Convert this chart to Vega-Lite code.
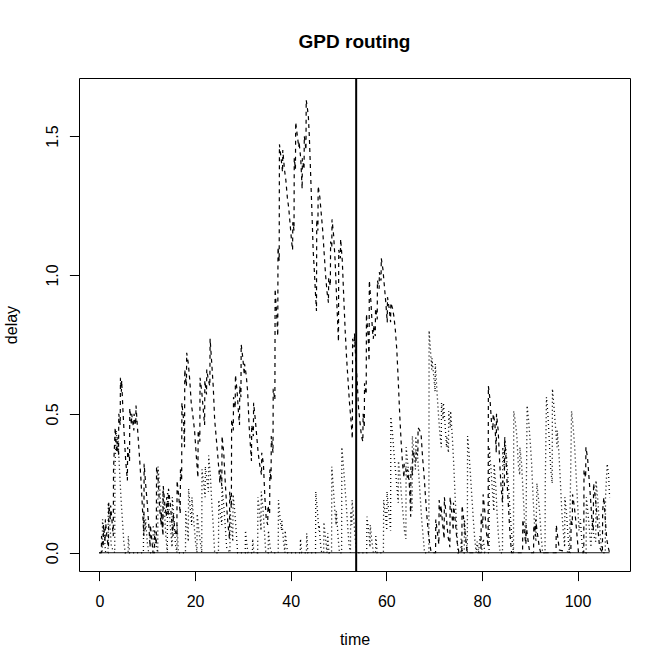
{
"$schema": "https://vega.github.io/schema/vega-lite/v6.json",
"width": 551, "height": 493,
"autosize": "none",
"padding": {"left": 79, "top": 78, "right": 41, "bottom": 99},
"background": "white",
"title": {"text": "GPD routing", "fontSize": 19, "fontWeight": "bold", "font": "Liberation Sans", "anchor": "middle", "offset": 10, "baseline": "alphabetic", "color": "black"},
"config": {"view": {"stroke": "black", "strokeWidth": 1}, "font": "Liberation Sans"},
"datasets": {
"a": [
{"t":0,"v":0},{"t":0.4,"v":0},{"t":0.45,"v":0.06},{"t":0.8,"v":0.02},{"t":0.85,"v":0.1},{"t":1.2,"v":0.04},{"t":1.25,"v":0.12},{"t":1.6,"v":0.05},{"t":1.9,"v":0.02},{"t":1.95,"v":0.18},{"t":2.3,"v":0.12},{"t":2.35,"v":0.17},{"t":2.7,"v":0.1},{"t":2.9,"v":0.06},{"t":2.95,"v":0.3},{"t":3.3,"v":0.45},{"t":3.6,"v":0.36},{"t":3.7,"v":0.4},{"t":4.0,"v":0.35},{"t":4.05,"v":0.5},{"t":4.35,"v":0.46},{"t":4.4,"v":0.63},{"t":4.6,"v":0.58},{"t":4.65,"v":0.62},{"t":4.9,"v":0.52},{"t":5.2,"v":0.42},{"t":5.5,"v":0.33},{"t":5.85,"v":0.26},{"t":5.9,"v":0.38},{"t":6.3,"v":0.33},{"t":6.35,"v":0.52},{"t":6.7,"v":0.46},{"t":6.75,"v":0.5},{"t":7.2,"v":0.44},{"t":7.25,"v":0.5},{"t":7.6,"v":0.46},{"t":7.65,"v":0.53},{"t":8.0,"v":0.44},{"t":8.4,"v":0.34},{"t":8.7,"v":0.26},{"t":9.0,"v":0.16},{"t":9.3,"v":0.06},{"t":9.35,"v":0.32},{"t":9.7,"v":0.24},{"t":10.0,"v":0.18},{"t":10.4,"v":0.08},{"t":10.6,"v":0.02},{"t":10.65,"v":0.1},{"t":11.0,"v":0.04},{"t":11.2,"v":0},{"t":11.5,"v":0},{"t":11.55,"v":0.08},{"t":11.9,"v":0.03},{"t":11.95,"v":0.31},{"t":12.3,"v":0.26},{"t":12.6,"v":0.16},{"t":12.9,"v":0.1},{"t":12.95,"v":0.15},{"t":13.3,"v":0.06},{"t":13.35,"v":0.24},{"t":13.7,"v":0.17},{"t":14.0,"v":0.13},{"t":14.05,"v":0.2},{"t":14.4,"v":0.13},{"t":14.45,"v":0.23},{"t":14.8,"v":0.18},{"t":15.1,"v":0.12},{"t":15.4,"v":0.06},{"t":15.45,"v":0.14},{"t":15.8,"v":0.08},{"t":16.2,"v":0.06},{"t":16.25,"v":0.26},{"t":16.6,"v":0.2},{"t":16.9,"v":0.14},{"t":16.95,"v":0.3},{"t":17.2,"v":0.26},{"t":17.25,"v":0.54},{"t":17.6,"v":0.48},{"t":17.8,"v":0.38},{"t":17.85,"v":0.66},{"t":18.2,"v":0.6},{"t":18.25,"v":0.72},{"t":18.6,"v":0.68},{"t":18.9,"v":0.62},{"t":19.2,"v":0.54},{"t":19.5,"v":0.5},{"t":19.9,"v":0.44},{"t":20.3,"v":0.34},{"t":20.6,"v":0.27},{"t":20.65,"v":0.44},{"t":21.0,"v":0.4},{"t":21.05,"v":0.63},{"t":21.4,"v":0.58},{"t":21.7,"v":0.52},{"t":22.0,"v":0.46},{"t":22.05,"v":0.62},{"t":22.4,"v":0.57},{"t":22.45,"v":0.66},{"t":22.8,"v":0.62},{"t":23.1,"v":0.6},{"t":23.15,"v":0.77},{"t":23.5,"v":0.68},{"t":23.8,"v":0.6},{"t":24.1,"v":0.48},{"t":24.5,"v":0.4},{"t":24.8,"v":0.34},{"t":25.2,"v":0.25},{"t":25.25,"v":0.3},{"t":25.6,"v":0.24},{"t":25.65,"v":0.42},{"t":26.0,"v":0.36},{"t":26.3,"v":0.26},{"t":26.6,"v":0.17},{"t":26.9,"v":0.1},{"t":27.2,"v":0.05},{"t":27.25,"v":0.22},{"t":27.6,"v":0.16},{"t":27.65,"v":0.48},{"t":28.0,"v":0.44},{"t":28.05,"v":0.56},{"t":28.4,"v":0.52},{"t":28.45,"v":0.64},{"t":28.8,"v":0.58},{"t":29.1,"v":0.5},{"t":29.3,"v":0.46},{"t":29.35,"v":0.6},{"t":29.6,"v":0.56},{"t":29.65,"v":0.75},{"t":30.0,"v":0.7},{"t":30.3,"v":0.64},{"t":30.35,"v":0.68},{"t":30.7,"v":0.64},{"t":31.0,"v":0.58},{"t":31.3,"v":0.46},{"t":31.6,"v":0.38},{"t":31.8,"v":0.33},{"t":31.85,"v":0.46},{"t":32.2,"v":0.42},{"t":32.25,"v":0.54},{"t":32.6,"v":0.48},{"t":32.9,"v":0.42},{"t":33.2,"v":0.36},{"t":33.5,"v":0.32},{"t":33.9,"v":0.28},{"t":33.95,"v":0.36},{"t":34.3,"v":0.32},{"t":34.6,"v":0.2},{"t":34.9,"v":0.12},{"t":35.2,"v":0.1},{"t":35.25,"v":0.17},{"t":35.6,"v":0.14},{"t":35.65,"v":0.3},{"t":35.9,"v":0.26},{"t":35.95,"v":0.42},{"t":36.3,"v":0.36},{"t":36.35,"v":0.59},{"t":36.7,"v":0.55},{"t":36.75,"v":0.95},{"t":37.0,"v":0.88},{"t":37.3,"v":0.78},{"t":37.35,"v":1.1},{"t":37.6,"v":1.05},{"t":37.65,"v":1.47},{"t":38.0,"v":1.42},{"t":38.3,"v":1.37},{"t":38.35,"v":1.45},{"t":38.7,"v":1.38},{"t":39.0,"v":1.34},{"t":39.3,"v":1.28},{"t":39.6,"v":1.24},{"t":39.9,"v":1.18},{"t":40.2,"v":1.12},{"t":40.4,"v":1.09},{"t":40.45,"v":1.19},{"t":40.7,"v":1.16},{"t":40.75,"v":1.42},{"t":41.0,"v":1.38},{"t":41.05,"v":1.55},{"t":41.4,"v":1.5},{"t":41.7,"v":1.46},{"t":41.75,"v":1.48},{"t":42.1,"v":1.42},{"t":42.4,"v":1.31},{"t":42.45,"v":1.42},{"t":42.8,"v":1.38},{"t":42.85,"v":1.5},{"t":43.2,"v":1.45},{"t":43.25,"v":1.63},{"t":43.5,"v":1.6},{"t":43.7,"v":1.57},{"t":43.9,"v":1.5},{"t":44.2,"v":1.35},{"t":44.5,"v":1.2},{"t":44.7,"v":1.09},{"t":45.0,"v":1.0},{"t":45.2,"v":0.93},{"t":45.4,"v":0.87},{"t":45.45,"v":1.2},{"t":45.7,"v":1.16},{"t":45.75,"v":1.32},{"t":46.1,"v":1.28},{"t":46.4,"v":1.22},{"t":46.7,"v":1.16},{"t":47.0,"v":1.08},{"t":47.3,"v":1.0},{"t":47.6,"v":0.94},{"t":47.9,"v":0.9},{"t":47.95,"v":0.99},{"t":48.3,"v":0.96},{"t":48.35,"v":1.12},{"t":48.6,"v":1.1},{"t":48.65,"v":1.2},{"t":49.0,"v":1.14},{"t":49.3,"v":1.05},{"t":49.6,"v":0.92},{"t":49.9,"v":0.8},{"t":50.0,"v":0.76},{"t":50.05,"v":1.09},{"t":50.4,"v":1.06},{"t":50.45,"v":1.13},{"t":50.8,"v":1.05},{"t":51.1,"v":0.92},{"t":51.4,"v":0.8},{"t":51.7,"v":0.7},{"t":52.0,"v":0.62},{"t":52.3,"v":0.54},{"t":52.6,"v":0.48},{"t":52.9,"v":0.41},{"t":52.95,"v":0.77},{"t":53.3,"v":0.74},{"t":53.35,"v":0.79},{"t":53.6,"v":0.7},{"t":53.9,"v":0.62},{"t":54.2,"v":0.52},{"t":54.5,"v":0.47},{"t":54.8,"v":0.42},{"t":55.1,"v":0.4},{"t":55.15,"v":0.5},{"t":55.4,"v":0.45},{"t":55.45,"v":0.61},{"t":55.8,"v":0.57},{"t":55.85,"v":0.86},{"t":56.2,"v":0.78},{"t":56.4,"v":0.69},{"t":56.45,"v":0.98},{"t":56.8,"v":0.9},{"t":57.1,"v":0.8},{"t":57.3,"v":0.77},{"t":57.35,"v":0.82},{"t":57.7,"v":0.78},{"t":57.75,"v":0.88},{"t":58.1,"v":0.84},{"t":58.15,"v":0.98},{"t":58.5,"v":0.95},{"t":58.55,"v":1.01},{"t":58.9,"v":0.98},{"t":58.95,"v":1.06},{"t":59.3,"v":1.02},{"t":59.6,"v":0.96},{"t":59.9,"v":0.9},{"t":60.2,"v":0.83},{"t":60.25,"v":0.92},{"t":60.6,"v":0.88},{"t":60.9,"v":0.83},{"t":60.95,"v":0.9},{"t":61.3,"v":0.88},{"t":61.6,"v":0.85},{"t":61.9,"v":0.8},{"t":62.2,"v":0.73},{"t":62.5,"v":0.62},{"t":62.8,"v":0.5},{"t":63.1,"v":0.4},{"t":63.4,"v":0.32},{"t":63.7,"v":0.27},{"t":63.75,"v":0.32},{"t":64.1,"v":0.3},{"t":64.4,"v":0.27},{"t":64.45,"v":0.3},{"t":64.8,"v":0.25},{"t":65.0,"v":0.18},{"t":65.1,"v":0.13},{"t":65.15,"v":0.31},{"t":65.5,"v":0.28},{"t":65.55,"v":0.37},{"t":65.9,"v":0.34},{"t":66.2,"v":0.33},{"t":66.25,"v":0.36},{"t":66.6,"v":0.35},{"t":66.65,"v":0.45},{"t":67.0,"v":0.44},{"t":67.3,"v":0.42},{"t":67.6,"v":0.34},{"t":67.9,"v":0.28},{"t":68.2,"v":0.2},{"t":68.5,"v":0.13},{"t":68.8,"v":0.07},{"t":69.1,"v":0.03},{"t":69.4,"v":0},{"t":70.3,"v":0},{"t":70.35,"v":0.12},{"t":70.7,"v":0.07},{"t":71.0,"v":0.03},{"t":71.05,"v":0.19},{"t":71.4,"v":0.13},{"t":71.45,"v":0.17},{"t":71.8,"v":0.1},{"t":72.1,"v":0.05},{"t":72.15,"v":0.2},{"t":72.5,"v":0.14},{"t":72.9,"v":0.06},{"t":73.3,"v":0.02},{"t":73.35,"v":0.2},{"t":73.7,"v":0.14},{"t":74.0,"v":0.08},{"t":74.05,"v":0.18},{"t":74.4,"v":0.12},{"t":74.8,"v":0.04},{"t":75.2,"v":0},{"t":75.8,"v":0},{"t":75.85,"v":0.17},{"t":76.2,"v":0.12},{"t":76.6,"v":0.05},{"t":76.9,"v":0},{"t":79.8,"v":0},{"t":79.85,"v":0.14},{"t":80.2,"v":0.09},{"t":80.25,"v":0.21},{"t":80.6,"v":0.15},{"t":80.9,"v":0.08},{"t":81.3,"v":0.02},{"t":81.35,"v":0.6},{"t":81.7,"v":0.55},{"t":82.0,"v":0.47},{"t":82.3,"v":0.44},{"t":82.35,"v":0.5},{"t":82.7,"v":0.47},{"t":83.0,"v":0.36},{"t":83.05,"v":0.5},{"t":83.4,"v":0.44},{"t":83.7,"v":0.33},{"t":84.0,"v":0.24},{"t":84.3,"v":0.18},{"t":84.35,"v":0.26},{"t":84.7,"v":0.24},{"t":84.75,"v":0.41},{"t":85.0,"v":0.35},{"t":85.3,"v":0.24},{"t":85.6,"v":0.15},{"t":85.9,"v":0.06},{"t":86.2,"v":0},{"t":88.5,"v":0},{"t":88.55,"v":0.12},{"t":88.9,"v":0.07},{"t":89.2,"v":0.03},{"t":89.25,"v":0.1},{"t":89.6,"v":0.05},{"t":90.0,"v":0},{"t":90.8,"v":0},{"t":90.85,"v":0.1},{"t":91.2,"v":0.06},{"t":91.25,"v":0.12},{"t":91.6,"v":0.07},{"t":92.0,"v":0.02},{"t":92.3,"v":0},{"t":95.5,"v":0},{"t":95.55,"v":0.1},{"t":95.9,"v":0.05},{"t":96.2,"v":0.01},{"t":98.6,"v":0},{"t":98.65,"v":0.12},{"t":98.9,"v":0.1},{"t":98.95,"v":0.21},{"t":99.3,"v":0.17},{"t":99.6,"v":0.12},{"t":99.9,"v":0.06},{"t":100.2,"v":0},{"t":101.3,"v":0},{"t":101.35,"v":0.3},{"t":101.7,"v":0.27},{"t":101.75,"v":0.38},{"t":102.1,"v":0.34},{"t":102.4,"v":0.27},{"t":102.7,"v":0.2},{"t":103.0,"v":0.12},{"t":103.3,"v":0.08},{"t":103.35,"v":0.25},{"t":103.7,"v":0.2},{"t":104.0,"v":0.15},{"t":104.3,"v":0.08},{"t":104.6,"v":0.02},{"t":105.2,"v":0},{"t":105.25,"v":0.15},{"t":105.5,"v":0.2},{"t":105.8,"v":0.12},{"t":106.1,"v":0.05},{"t":106.4,"v":0.02},{"t":106.7,"v":0}
],
"b": [
{"t":0,"v":0},{"t":0.6,"v":0},{"t":0.65,"v":0.12},{"t":1.0,"v":0.06},{"t":1.3,"v":0},{"t":1.8,"v":0},{"t":1.85,"v":0.18},{"t":2.2,"v":0.1},{"t":2.5,"v":0.02},{"t":3.2,"v":0},{"t":3.25,"v":0.3},{"t":3.5,"v":0.44},{"t":3.8,"v":0.38},{"t":3.85,"v":0.42},{"t":4.2,"v":0.3},{"t":4.5,"v":0.2},{"t":4.8,"v":0.12},{"t":5.1,"v":0.04},{"t":5.4,"v":0},{"t":6.0,"v":0},{"t":6.05,"v":0.06},{"t":6.3,"v":0},{"t":9.2,"v":0},{"t":9.25,"v":0.14},{"t":9.6,"v":0.08},{"t":9.65,"v":0.12},{"t":10.0,"v":0.04},{"t":10.3,"v":0},{"t":11.2,"v":0},{"t":11.25,"v":0.1},{"t":11.5,"v":0.05},{"t":12.2,"v":0},{"t":12.25,"v":0.31},{"t":12.6,"v":0.24},{"t":12.9,"v":0.15},{"t":13.2,"v":0.08},{"t":13.25,"v":0.22},{"t":13.6,"v":0.15},{"t":13.9,"v":0.06},{"t":14.2,"v":0},{"t":14.25,"v":0.22},{"t":14.6,"v":0.15},{"t":14.9,"v":0.08},{"t":15.2,"v":0.02},{"t":15.25,"v":0.2},{"t":15.6,"v":0.12},{"t":15.9,"v":0.03},{"t":16.2,"v":0},{"t":16.25,"v":0.1},{"t":16.5,"v":0},{"t":18.0,"v":0},{"t":18.05,"v":0.15},{"t":18.4,"v":0.08},{"t":18.6,"v":0.04},{"t":18.65,"v":0.23},{"t":19.0,"v":0.16},{"t":19.3,"v":0.1},{"t":19.35,"v":0.2},{"t":19.7,"v":0.12},{"t":20.1,"v":0.04},{"t":20.4,"v":0},{"t":20.45,"v":0.14},{"t":20.8,"v":0.08},{"t":21.4,"v":0},{"t":21.45,"v":0.3},{"t":21.8,"v":0.25},{"t":22.1,"v":0.2},{"t":22.15,"v":0.31},{"t":22.5,"v":0.26},{"t":22.8,"v":0.22},{"t":22.85,"v":0.35},{"t":23.2,"v":0.28},{"t":23.5,"v":0.18},{"t":23.8,"v":0.1},{"t":24.1,"v":0},{"t":24.9,"v":0},{"t":24.95,"v":0.19},{"t":25.3,"v":0.14},{"t":25.6,"v":0.1},{"t":25.65,"v":0.24},{"t":26.0,"v":0.17},{"t":26.3,"v":0.1},{"t":26.6,"v":0.02},{"t":27.3,"v":0},{"t":27.35,"v":0.15},{"t":27.7,"v":0.08},{"t":27.9,"v":0.04},{"t":27.95,"v":0.21},{"t":28.3,"v":0.15},{"t":28.6,"v":0.08},{"t":28.9,"v":0},{"t":30.5,"v":0},{"t":30.55,"v":0.08},{"t":30.9,"v":0.02},{"t":31.1,"v":0},{"t":32.0,"v":0},{"t":32.05,"v":0.05},{"t":32.3,"v":0},{"t":33.1,"v":0},{"t":33.15,"v":0.2},{"t":33.5,"v":0.15},{"t":33.8,"v":0.08},{"t":33.85,"v":0.22},{"t":34.2,"v":0.16},{"t":34.5,"v":0.08},{"t":34.8,"v":0},{"t":35.3,"v":0},{"t":35.35,"v":0.08},{"t":35.7,"v":0.02},{"t":36.0,"v":0},{"t":37.4,"v":0},{"t":37.45,"v":0.19},{"t":37.8,"v":0.12},{"t":38.1,"v":0.08},{"t":38.15,"v":0.12},{"t":38.5,"v":0.04},{"t":38.8,"v":0},{"t":38.85,"v":0.08},{"t":39.2,"v":0.02},{"t":39.4,"v":0},{"t":42.0,"v":0},{"t":42.05,"v":0.05},{"t":42.3,"v":0},{"t":43.3,"v":0},{"t":43.35,"v":0.07},{"t":43.6,"v":0},{"t":45.2,"v":0},{"t":45.25,"v":0.22},{"t":45.6,"v":0.15},{"t":45.9,"v":0.08},{"t":45.95,"v":0.1},{"t":46.3,"v":0.02},{"t":46.5,"v":0},{"t":46.9,"v":0},{"t":46.95,"v":0.11},{"t":47.3,"v":0.05},{"t":47.6,"v":0},{"t":47.75,"v":0.07},{"t":48.0,"v":0},{"t":48.55,"v":0},{"t":48.6,"v":0.31},{"t":48.9,"v":0.24},{"t":49.2,"v":0.16},{"t":49.5,"v":0.1},{"t":49.55,"v":0.15},{"t":49.9,"v":0.06},{"t":50.2,"v":0},{"t":50.65,"v":0},{"t":50.7,"v":0.38},{"t":51.0,"v":0.32},{"t":51.3,"v":0.25},{"t":51.6,"v":0.18},{"t":51.9,"v":0.1},{"t":52.2,"v":0.03},{"t":52.5,"v":0},{"t":52.55,"v":0.15},{"t":52.8,"v":0.1},{"t":52.85,"v":0.19},{"t":53.2,"v":0.12},{"t":53.5,"v":0.05},{"t":53.8,"v":0},{"t":55.9,"v":0},{"t":55.95,"v":0.13},{"t":56.3,"v":0.08},{"t":56.6,"v":0.02},{"t":56.65,"v":0.1},{"t":57.0,"v":0.04},{"t":57.3,"v":0},{"t":57.75,"v":0},{"t":57.8,"v":0.06},{"t":58.1,"v":0},{"t":59.4,"v":0},{"t":59.45,"v":0.19},{"t":59.8,"v":0.14},{"t":60.1,"v":0.08},{"t":60.15,"v":0.22},{"t":60.5,"v":0.15},{"t":60.9,"v":0.08},{"t":60.95,"v":0.49},{"t":61.3,"v":0.43},{"t":61.6,"v":0.36},{"t":61.9,"v":0.3},{"t":62.2,"v":0.24},{"t":62.5,"v":0.18},{"t":62.55,"v":0.33},{"t":62.9,"v":0.27},{"t":63.2,"v":0.2},{"t":63.5,"v":0.14},{"t":63.8,"v":0.08},{"t":64.1,"v":0.05},{"t":64.15,"v":0.38},{"t":64.5,"v":0.32},{"t":64.8,"v":0.26},{"t":65.1,"v":0.2},{"t":65.4,"v":0.15},{"t":65.45,"v":0.42},{"t":65.8,"v":0.36},{"t":66.1,"v":0.3},{"t":66.15,"v":0.42},{"t":66.5,"v":0.36},{"t":66.8,"v":0.28},{"t":67.1,"v":0.2},{"t":67.4,"v":0.12},{"t":67.7,"v":0.06},{"t":68.0,"v":0},{"t":68.9,"v":0},{"t":68.95,"v":0.8},{"t":69.2,"v":0.74},{"t":69.5,"v":0.66},{"t":69.55,"v":0.7},{"t":69.9,"v":0.64},{"t":70.2,"v":0.58},{"t":70.25,"v":0.68},{"t":70.6,"v":0.58},{"t":70.9,"v":0.5},{"t":71.2,"v":0.43},{"t":71.5,"v":0.38},{"t":71.55,"v":0.54},{"t":71.9,"v":0.48},{"t":71.95,"v":0.54},{"t":72.3,"v":0.46},{"t":72.6,"v":0.38},{"t":72.65,"v":0.42},{"t":73.0,"v":0.36},{"t":73.05,"v":0.51},{"t":73.4,"v":0.45},{"t":73.45,"v":0.51},{"t":73.8,"v":0.42},{"t":74.1,"v":0.32},{"t":74.4,"v":0.2},{"t":74.7,"v":0.1},{"t":75.0,"v":0},{"t":75.6,"v":0},{"t":75.65,"v":0.05},{"t":75.9,"v":0},{"t":76.3,"v":0},{"t":76.35,"v":0.12},{"t":76.6,"v":0.06},{"t":76.95,"v":0},{"t":77.0,"v":0.42},{"t":77.3,"v":0.36},{"t":77.6,"v":0.28},{"t":77.9,"v":0.2},{"t":78.2,"v":0.12},{"t":78.5,"v":0.05},{"t":78.8,"v":0},{"t":79.0,"v":0.04},{"t":79.3,"v":0},{"t":79.6,"v":0.06},{"t":79.9,"v":0},{"t":80.3,"v":0.05},{"t":80.6,"v":0},{"t":81.5,"v":0},{"t":81.55,"v":0.38},{"t":81.9,"v":0.3},{"t":82.2,"v":0.22},{"t":82.5,"v":0.15},{"t":82.55,"v":0.32},{"t":82.9,"v":0.24},{"t":83.2,"v":0.13},{"t":83.5,"v":0.05},{"t":83.8,"v":0},{"t":84.3,"v":0},{"t":84.35,"v":0.38},{"t":84.7,"v":0.3},{"t":84.75,"v":0.42},{"t":85.1,"v":0.36},{"t":85.4,"v":0.28},{"t":85.7,"v":0.2},{"t":86.0,"v":0.12},{"t":86.3,"v":0.05},{"t":86.6,"v":0},{"t":86.65,"v":0.51},{"t":87.0,"v":0.47},{"t":87.3,"v":0.42},{"t":87.6,"v":0.32},{"t":87.9,"v":0.28},{"t":87.95,"v":0.38},{"t":88.3,"v":0.32},{"t":88.6,"v":0.22},{"t":88.9,"v":0.12},{"t":89.2,"v":0.05},{"t":89.45,"v":0.53},{"t":89.8,"v":0.47},{"t":90.1,"v":0.4},{"t":90.4,"v":0.32},{"t":90.7,"v":0.2},{"t":91.0,"v":0.1},{"t":91.3,"v":0.04},{"t":91.5,"v":0.25},{"t":91.8,"v":0.2},{"t":92.1,"v":0.14},{"t":92.4,"v":0.06},{"t":92.7,"v":0},{"t":93.2,"v":0},{"t":93.25,"v":0.25},{"t":93.5,"v":0.56},{"t":93.8,"v":0.5},{"t":94.1,"v":0.4},{"t":94.4,"v":0.3},{"t":94.7,"v":0.25},{"t":94.75,"v":0.59},{"t":95.1,"v":0.52},{"t":95.4,"v":0.45},{"t":95.7,"v":0.38},{"t":95.75,"v":0.44},{"t":96.1,"v":0.36},{"t":96.4,"v":0.26},{"t":96.7,"v":0.15},{"t":97.0,"v":0.08},{"t":97.3,"v":0.02},{"t":97.35,"v":0.2},{"t":97.7,"v":0.14},{"t":98.0,"v":0.06},{"t":98.3,"v":0},{"t":98.5,"v":0.22},{"t":98.75,"v":0.51},{"t":99.1,"v":0.45},{"t":99.4,"v":0.38},{"t":99.7,"v":0.28},{"t":100.0,"v":0.18},{"t":100.3,"v":0.08},{"t":100.6,"v":0.12},{"t":100.9,"v":0.04},{"t":101.2,"v":0},{"t":101.8,"v":0},{"t":101.85,"v":0.2},{"t":102.2,"v":0.14},{"t":102.5,"v":0.08},{"t":102.8,"v":0.02},{"t":103.1,"v":0.12},{"t":103.4,"v":0.06},{"t":103.8,"v":0.04},{"t":103.85,"v":0.26},{"t":104.2,"v":0.2},{"t":104.5,"v":0.12},{"t":104.8,"v":0.05},{"t":105.1,"v":0},{"t":105.8,"v":0},{"t":105.85,"v":0.2},{"t":106.2,"v":0.32},{"t":106.5,"v":0.28},{"t":106.7,"v":0.2}
],
"z": [{"t":0,"v":0},{"t":106.7,"v":0}],
"vl": [{"t":53.7}]
},
"encoding": {
"x": {"field": "t", "type": "quantitative", "scale": {"domain": [-4.27, 110.97], "nice": false, "zero": false},
 "axis": {"values": [0,20,40,60,80,100], "format": "d", "title": "time", "grid": false, "domain": false, "tickSize": 9.6, "tickColor": "black", "labelColor": "black", "labelFont": "Liberation Sans", "labelFontSize": 16, "labelBaseline": "alphabetic", "labelPadding": 26, "labelFlush": false, "labelOverlap": false, "titleFont": "Liberation Sans", "titleFontSize": 16, "titleFontWeight": "normal", "titleColor": "black", "titleX": 275.5, "titleY": 73, "titleBaseline": "alphabetic", "titleAlign": "center"}}
},
"layer": [
{"data": {"name": "z"}, "mark": {"type": "line", "color": "#111111", "strokeWidth": 1},
 "encoding": {"y": {"field": "v", "type": "quantitative", "scale": {"domain": [-0.0657, 1.709], "nice": false, "zero": false},
  "axis": {"values": [0,0.5,1,1.5], "format": ".1f", "title": "delay", "grid": false, "domain": false, "tickSize": 9.6, "tickColor": "black", "labelColor": "black", "labelFont": "Liberation Sans", "labelFontSize": 16, "labelAngle": -90, "labelAlign": "center", "labelBaseline": "alphabetic", "labelPadding": 12, "labelFlush": false, "labelOverlap": false, "titleFont": "Liberation Sans", "titleFontSize": 16, "titleFontWeight": "normal", "titleColor": "black", "titleAngle": -90, "titleX": -63, "titleY": 246.5, "titleBaseline": "alphabetic", "titleAlign": "center"}}}},
{"data": {"name": "a"}, "mark": {"type": "line", "color": "black", "strokeWidth": 1.2, "strokeDash": [4, 4]},
 "encoding": {"y": {"field": "v", "type": "quantitative"}}},
{"data": {"name": "b"}, "mark": {"type": "line", "color": "black", "strokeWidth": 1.3, "strokeDash": [1, 3]},
 "encoding": {"y": {"field": "v", "type": "quantitative"}}},
{"data": {"name": "vl"}, "mark": {"type": "rule", "color": "black", "strokeWidth": 2}, "encoding": {}}
]
}
